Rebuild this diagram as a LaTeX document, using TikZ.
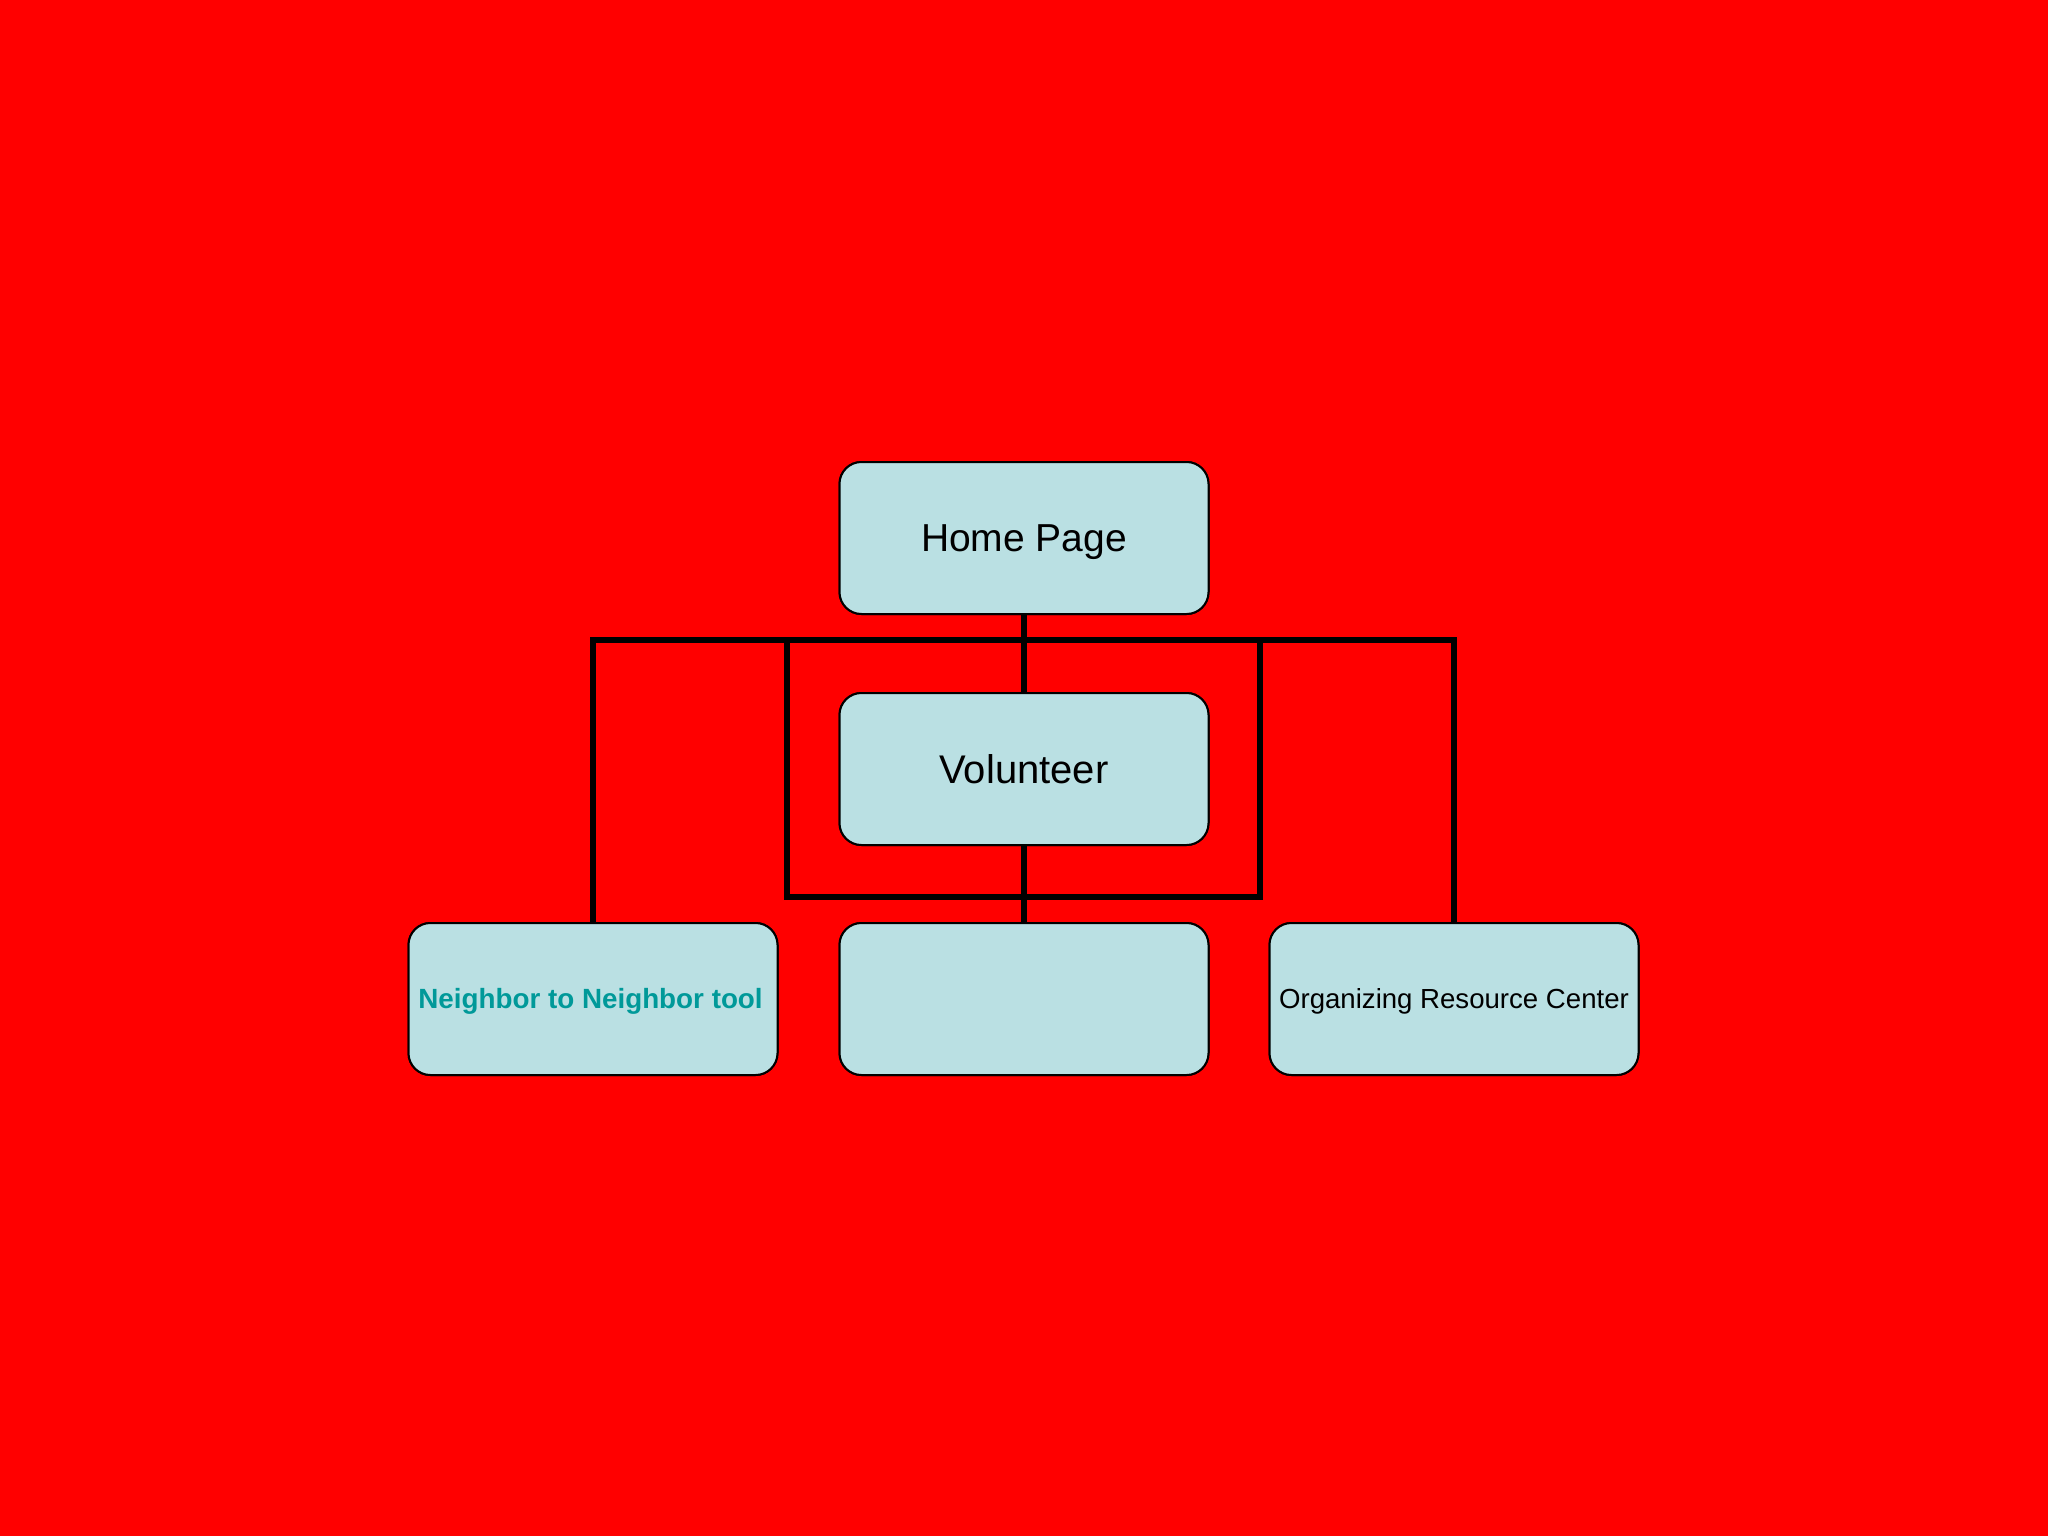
\documentclass[tikz,border=0pt]{standalone}
\usepackage{fontspec}
\setmainfont{Liberation Sans}
\definecolor{bg}{HTML}{FF0000}
\definecolor{boxfill}{HTML}{BAE0E3}
\definecolor{teal2}{HTML}{009999}
\tikzset{
  chartbox/.style={draw=black, line width=2pt, fill=boxfill, rounded corners=22pt,
    minimum width=369pt, minimum height=152pt, inner sep=0pt, text depth=0pt},
  hometxt/.style={font=\fontsize{39}{44}\selectfont, text height=27.9pt},
  voltxt/.style={font=\fontsize{40}{44}\selectfont, text height=28.6pt},
  smalltxt/.style={font=\fontsize{27.6}{34}\selectfont, text height=19.8pt},
  boldtxt/.style={text=teal2, font=\fontsize{27.8}{34}\selectfont\bfseries, text height=19.9pt},
  conn/.style={line width=6.5pt, draw=black, line cap=rect}
}
\begin{document}
\begin{tikzpicture}[x=1pt,y=-1pt]
\fill[bg] (0,0) rectangle (2048,1536);
\useasboundingbox (0,0) rectangle (2048,1536);
\coordinate (bus) at (1024,640);
\coordinate (ia) at (787,640);
\coordinate (ib) at (1260,897);
\node[chartbox, hometxt] (home) at (1024,538) {Home Page};
\node[chartbox, voltxt] (vol) at (1024,769) {Volunteer};
\node[chartbox, boldtxt] (left) at (593,999) {\hspace*{-5pt}Neighbor to Neighbor tool};
\node[chartbox] (mid) at (1024,999) {};
\node[chartbox, smalltxt] (right) at (1454,999) {Organizing Resource Center};
\draw[conn] (home.south) -- (vol.north);
\draw[conn] (left.north) -- (left.north |- bus) -- (right.north |- bus) -- (right.north);
\draw[conn] (ia) rectangle (ib);
\draw[conn] (vol.south) -- (mid.north);
% boxes drawn again over the connector ends
\node[chartbox, hometxt] at (home) {Home Page};
\node[chartbox, voltxt] at (vol) {Volunteer};
\node[chartbox, boldtxt] at (left) {\hspace*{-5pt}Neighbor to Neighbor tool};
\node[chartbox] at (mid) {};
\node[chartbox, smalltxt] at (right) {Organizing Resource Center};
\end{tikzpicture}
\end{document}
